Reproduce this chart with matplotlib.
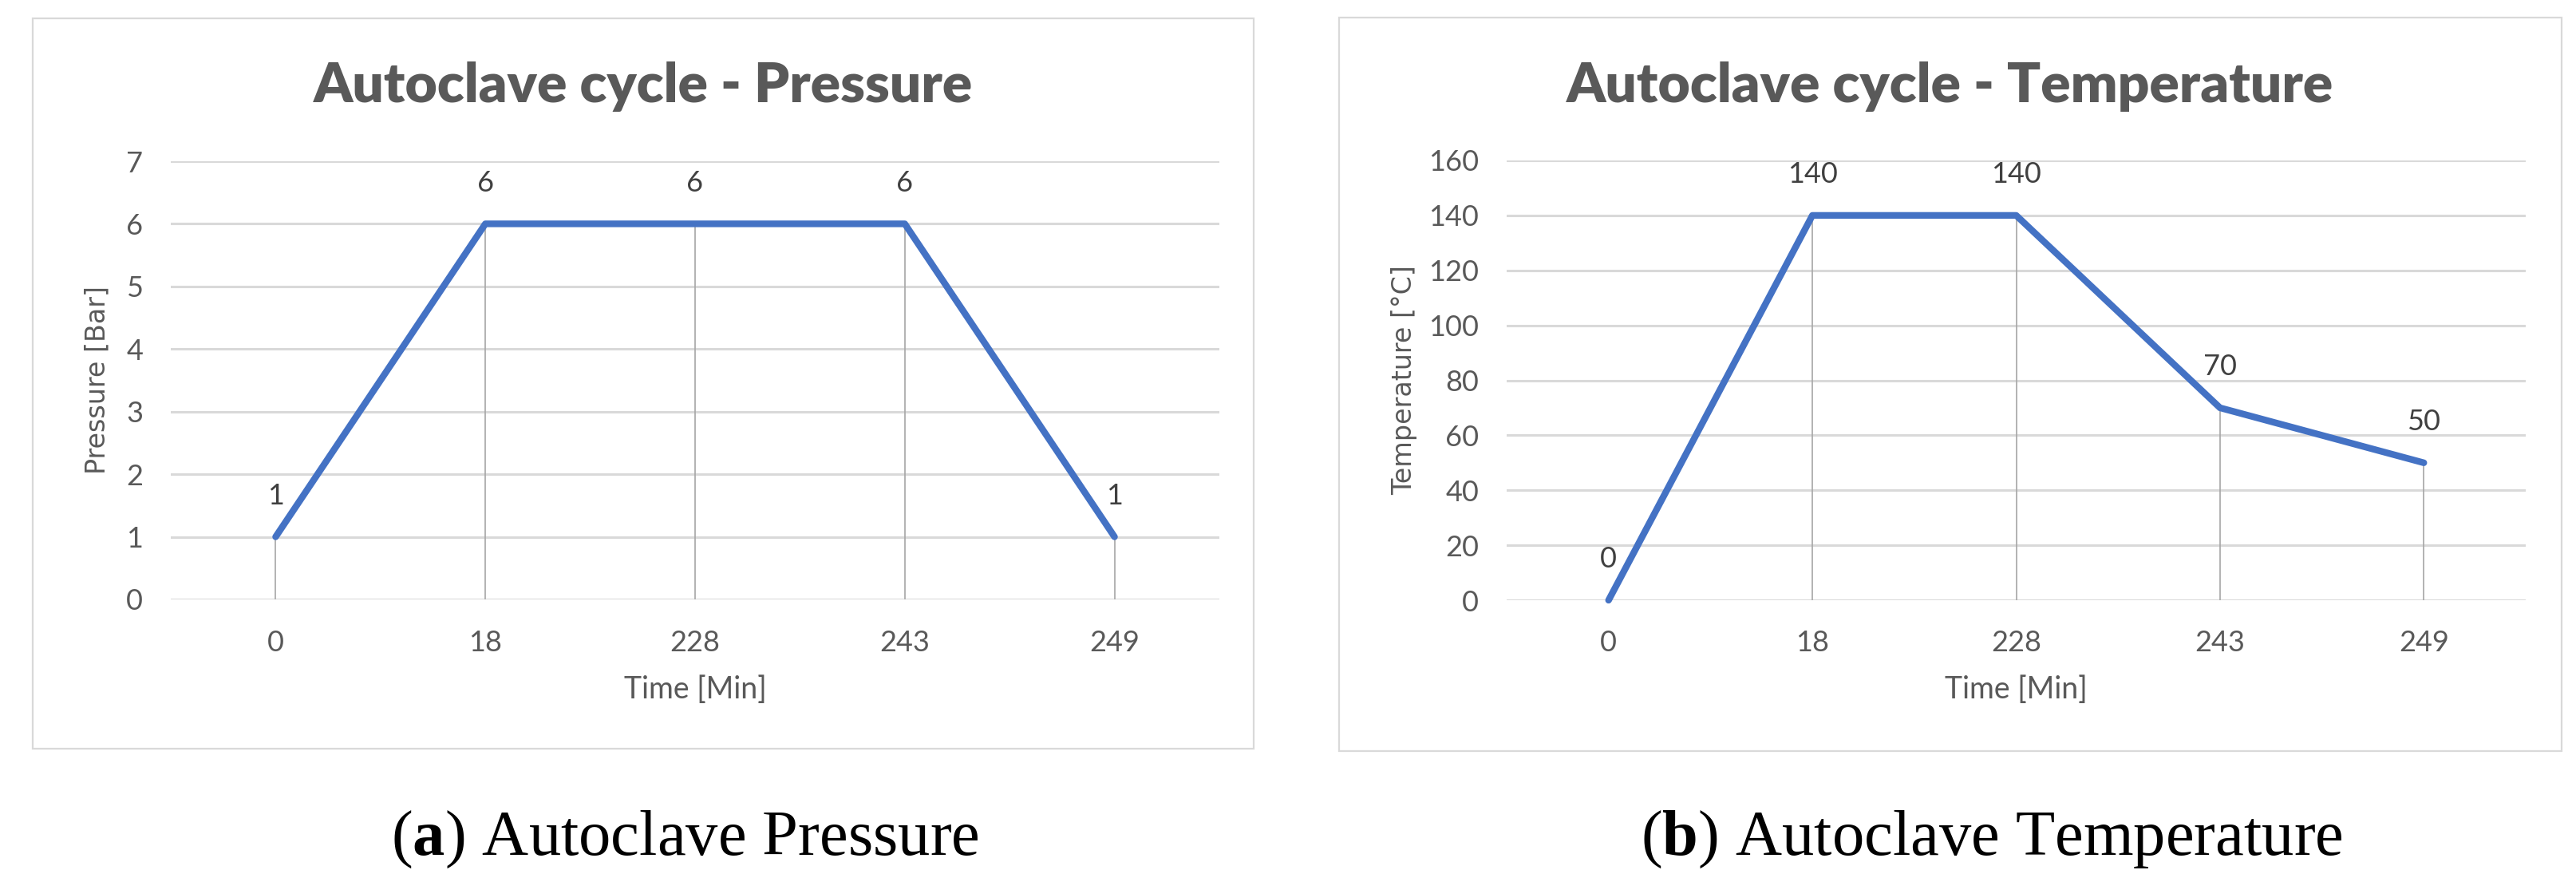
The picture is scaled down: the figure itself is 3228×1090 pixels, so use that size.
import matplotlib.pyplot as plt
from matplotlib.patches import Rectangle

plt.rcParams["mathtext.fontset"] = "custom"
plt.rcParams["mathtext.rm"] = "Liberation Serif"
plt.rcParams["mathtext.bf"] = "Liberation Serif:bold"

# data
time_labels = ["0", "18", "228", "243", "249"]
pressure = [1, 6, 6, 6, 1]
temperature = [0, 140, 140, 70, 50]

W, H = 3228, 1090
BLUE = "#4472C4"
GREY_TXT = "#595959"
GRID = "#d9d9d9"
TICK_FONT = "Lato"

fig = plt.figure(figsize=(W / 100, H / 100), dpi=100)


def px_box(x0, y0, x1, y1):
    return [x0 / W, 1 - y1 / H, (x1 - x0) / W, (y1 - y0) / H]


def panel(box, axbox, values, ymax, ystep, ylabel, title, caption, cap_x, ylab_x):
    bx0, by0, bx1, by1 = box
    fig.patches.append(Rectangle((bx0 / W, 1 - by1 / H), (bx1 - bx0) / W, (by1 - by0) / H,
                                 transform=fig.transFigure, fill=False,
                                 edgecolor=GRID, lw=1.6))
    fig.text((bx0 + bx1) / 2 / W, 1 - 128 / H, title, ha="center", va="baseline",
             fontsize=50, fontweight="heavy", family=TICK_FONT, color=GREY_TXT)
    fig.text(cap_x / W, 1 - 1071 / H, caption, ha="center", va="baseline",
             fontsize=58, family="Liberation Serif", color="black")

    ax = fig.add_axes(px_box(*axbox))
    x = list(range(len(values)))
    ax.set_xlim(-0.5, len(values) - 0.5)
    ax.set_ylim(0, ymax)
    ax.set_yticks(range(0, ymax + 1, ystep))
    ax.set_xticks(x)
    ax.set_xticklabels(time_labels)
    ax.grid(axis="y", color=GRID, lw=2.2)
    ax.set_axisbelow(True)
    for s in ax.spines.values():
        s.set_visible(False)
    ax.tick_params(length=0, labelsize=26, labelcolor=GREY_TXT)
    ax.tick_params(axis="x", pad=27)
    ax.tick_params(axis="y", pad=25)
    for lab in ax.get_xticklabels() + ax.get_yticklabels():
        lab.set_family(TICK_FONT)

    ax.vlines(x, 0, values, color="#a6a6a6", lw=1.2, zorder=2)
    ax.plot(x, values, color=BLUE, lw=6, solid_joinstyle="round",
            solid_capstyle="round", zorder=3, clip_on=False)
    for xi, v in zip(x, values):
        ax.annotate(str(v), (xi, v), xytext=(0, 37), textcoords="offset points",
                    ha="center", va="center", fontsize=26, family=TICK_FONT,
                    color="#404040")

    ax.set_xlabel("Time [Min]", fontsize=27, family=TICK_FONT, color=GREY_TXT,
                  va="center")
    ax.xaxis.set_label_coords(0.5, -(864 - axbox[3]) / (axbox[3] - axbox[1]))
    ax.set_ylabel(ylabel, fontsize=24, family="DejaVu Sans", color=GREY_TXT,
                  va="center")
    ax.yaxis.set_label_coords((ylab_x - axbox[0]) / (axbox[2] - axbox[0]), 0.5)
    return ax


panel((41, 23, 1571, 938), (214, 202, 1528, 751), pressure, 7, 1,
      "Pressure [Bar]", "Autoclave cycle - Pressure",
      r"($\mathbf{a}$) Autoclave Pressure", 858, 122)
panel((1678, 22, 3210, 941), (1888, 201, 3165, 752), temperature, 160, 20,
      "Temperature [°C]", "Autoclave cycle - Temperature",
      r"($\mathbf{b}$) Autoclave Temperature", 2496, 1760)

fig.savefig("out.png", dpi=100)
